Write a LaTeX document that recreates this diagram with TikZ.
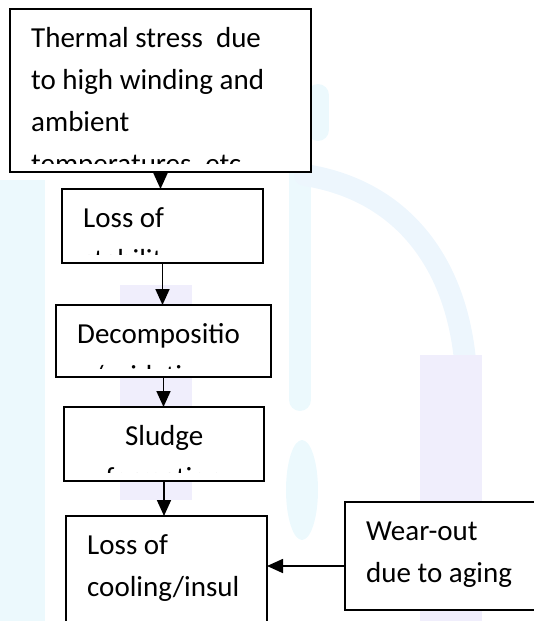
\documentclass[tikz,border=0pt]{standalone}
\usepackage{fontspec}
\setmainfont{Carlito}
\usetikzlibrary{arrows.meta,positioning}

\definecolor{wmcyan}{RGB}{236,249,253}
\definecolor{wmlav}{RGB}{240,238,252}

\tikzstyle{box} = [draw, rectangle, fill=white, line width=1.7pt, anchor=north west, inner sep=0pt, outer sep=0pt]
\tikzstyle{txt} = [anchor=base west, inner sep=0pt, font=\fontsize{29}{42}\selectfont]
\tikzstyle{line} = [draw, line width=1.7pt, -{Triangle[length=16pt,width=14pt]}]
\tikzstyle{wmark} = [line width=22pt, line cap=round]

% text of a box, cut off above its lower edge
\newcommand{\boxtext}[4][\raggedright]{%
  \begin{scope}
    \clip (#2.north west) rectangle ([yshift=9pt]#2.south east);
    \node[txt] at ([shift={(21pt,-38pt)}]#2.north west) {\parbox[t]{#3}{#1#4}};
  \end{scope}}

\begin{document}
\begin{tikzpicture}[x=1pt, y=-1pt]
	\useasboundingbox (0,0) rectangle (534,621);
	\clip (0,0) rectangle (534,621);

	% faint watermark
	\fill[wmcyan] (0,180) rectangle (45,621);
	\fill[wmlav] (120,285) rectangle (192,500);
	\draw[wmark, wmcyan] (318,95) -- (318,130);
	\draw[wmark, wmcyan] (300,170) -- (300,400);
	\draw[wmark, wmcyan!70!wmlav] (305,175) .. controls (400,190) and (455,260) .. (465,360);
	\fill[wmlav] (420,355) rectangle (482,621);
	\fill[wmcyan] (302,490) ellipse (16pt and 50pt);

	\node [box, minimum width=301pt, minimum height=163pt] (thermal) at (10,9) {};
	\node [box, minimum width=201pt, minimum height=74pt] (stab) at (62,189) {};
	\node [box, minimum width=215pt, minimum height=72pt] (decomp) at (56,305) {};
	\node [box, minimum width=200pt, minimum height=74pt] (sludge) at (64,407) {};
	\node [box, minimum width=201pt, minimum height=130pt] (cool) at (66,516) {};
	\node [box, minimum width=200pt, minimum height=108pt] (wear) at (345,502) {};

	\boxtext{thermal}{260pt}{Thermal stress~~due\\to high winding and\\ambient\\temperatures, etc}
	\boxtext{stab}{160pt}{Loss of\\stability}
	\boxtext{decomp}{175pt}{Decompositio\\n/oxidation}
	\boxtext[\centering]{sludge}{158pt}{Sludge\\formation}
	\boxtext{cool}{160pt}{Loss of\\cooling/insul}
	\boxtext{wear}{170pt}{Wear-out\\due to aging}

	\path [line] (thermal.south) -- (thermal.south |- stab.north);
	\path [line] (stab.south) -- (stab.south |- decomp.north);
	\path [line] (decomp.south) -- (decomp.south |- sludge.north);
	\path [line] (sludge.south) -- (sludge.south |- cool.north);
	\path [line] ([yshift=-10pt]wear.west) -- ([yshift=-10pt]wear.west -| cool.east);
\end{tikzpicture}
\end{document}
